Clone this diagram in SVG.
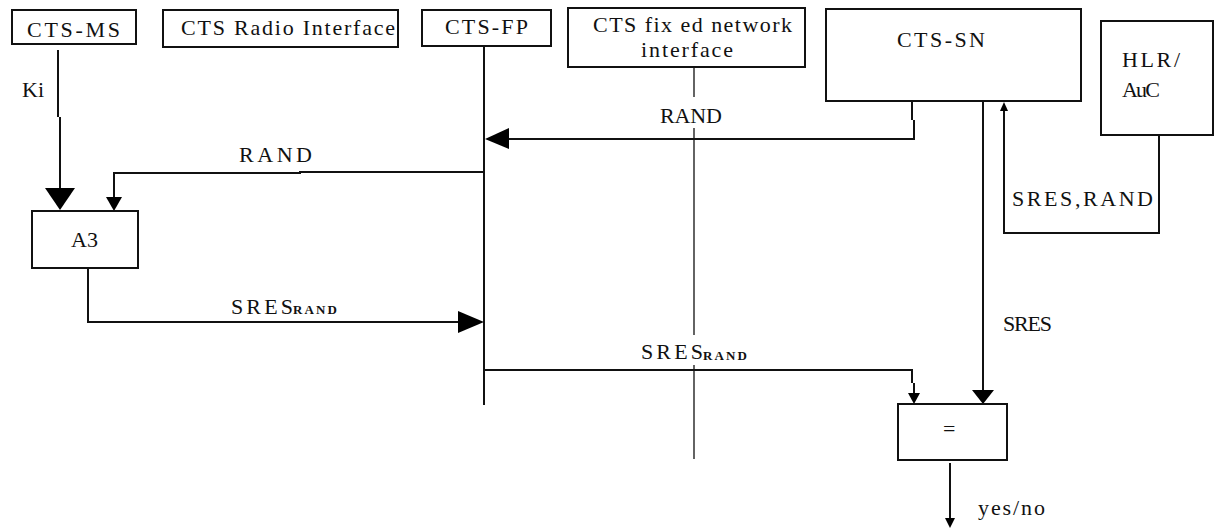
<svg xmlns="http://www.w3.org/2000/svg" width="1215" height="528" viewBox="0 0 1215 528" font-family="'Liberation Serif', 'DejaVu Serif', serif">
<style>
.box{fill:#fff;stroke:#111;stroke-width:2}
.ln{fill:none;stroke:#111;stroke-width:2}
.thin{fill:none;stroke:#111;stroke-width:1.3}
.ah{fill:#000;stroke:none}
text{font-size:22px;fill:#111}
.sub{font-size:13px;font-weight:bold}
</style>
<rect width="1215" height="528" fill="#fff"/>
<g id="connectors">
  <path class="ln" d="M58,50 V117 M60,117 V190"/>
  <polygon class="ah" points="45,188 75,188 60,210"/>
  <path class="ln" d="M484,46 V405"/>
  <path class="thin" d="M694,67 V97 M694,128 V335 M694,365 V459"/>
  <path class="ln" d="M484,172 H300 V173 H114 V198"/>
  <polygon class="ah" points="106,197 122,197 114,211"/>
  <path class="ln" d="M912,101 V120 M914,120 V139 H507"/>
  <polygon class="ah" points="509,128 509,149 485,139"/>
  <path class="ln" d="M983,101 V392"/>
  <polygon class="ah" points="972,390 994,390 983,404"/>
  <path class="ln" d="M1159,135 V233 H1004 V110"/>
  <polygon class="ah" points="1000,111 1008,111 1004,102"/>
  <path class="ln" d="M88,268 V322 H460"/>
  <polygon class="ah" points="458,311 458,333 484,322"/>
  <path class="ln" d="M484,370 H912 V383 M914,383 V395"/>
  <polygon class="ah" points="908,393 920,393 914,404"/>
  <path class="ln" d="M950,463 V520"/>
  <polygon class="ah" points="945,518 955,518 950,528"/>
  <text x="22" y="97">Ki</text>
  <text x="239" y="162" textLength="73" lengthAdjust="spacing">RAND</text>
  <text x="660" y="123" textLength="62" lengthAdjust="spacing">RAND</text>
  <text x="1012" y="206" textLength="141" lengthAdjust="spacing">SRES,RAND</text>
  <text x="1003" y="331" textLength="49" lengthAdjust="spacing">SRES</text>
  <text x="231" y="314" textLength="62" lengthAdjust="spacing">SRES</text>
  <text class="sub" x="293" y="314" textLength="44" lengthAdjust="spacing">RAND</text>
  <text x="641" y="359" textLength="62" lengthAdjust="spacing">SRES</text>
  <text class="sub" x="703" y="360" textLength="44" lengthAdjust="spacing">RAND</text>
  <text x="978" y="515" textLength="67" lengthAdjust="spacing">yes/no</text>
</g>
<g id="cts-ms">
  <rect class="box" x="12" y="10" width="124" height="34"/>
  <text x="27" y="37" textLength="93" lengthAdjust="spacing">CTS-MS</text>
</g>
<g id="cts-radio">
  <rect class="box" x="163" y="10" width="235" height="37"/>
  <text x="181" y="35" textLength="214" lengthAdjust="spacing">CTS Radio Interface</text>
</g>
<g id="cts-fp">
  <rect class="box" x="422" y="10" width="129" height="36"/>
  <text x="445" y="34" textLength="83" lengthAdjust="spacing">CTS-FP</text>
</g>
<g id="cts-fixed">
  <rect class="box" x="568" y="8" width="237" height="59"/>
  <text x="593" y="32" textLength="199" lengthAdjust="spacing">CTS fix ed network</text>
  <text x="641" y="57" textLength="92" lengthAdjust="spacing">interface</text>
</g>
<g id="cts-sn">
  <rect class="box" x="826" y="9" width="255" height="92"/>
  <text x="897" y="47" textLength="88" lengthAdjust="spacing">CTS-SN</text>
</g>
<g id="hlr-auc">
  <rect class="box" x="1101" y="21" width="112" height="114"/>
  <text x="1122" y="67" textLength="58" lengthAdjust="spacing">HLR/</text>
  <text x="1122" y="97" textLength="38" lengthAdjust="spacing">AuC</text>
</g>
<g id="a3">
  <rect class="box" x="32" y="211" width="106" height="57"/>
  <text x="71" y="247">A3</text>
</g>
<g id="compare">
  <rect class="box" x="898" y="404" width="109" height="56"/>
  <text x="943" y="436">=</text>
</g>
</svg>
